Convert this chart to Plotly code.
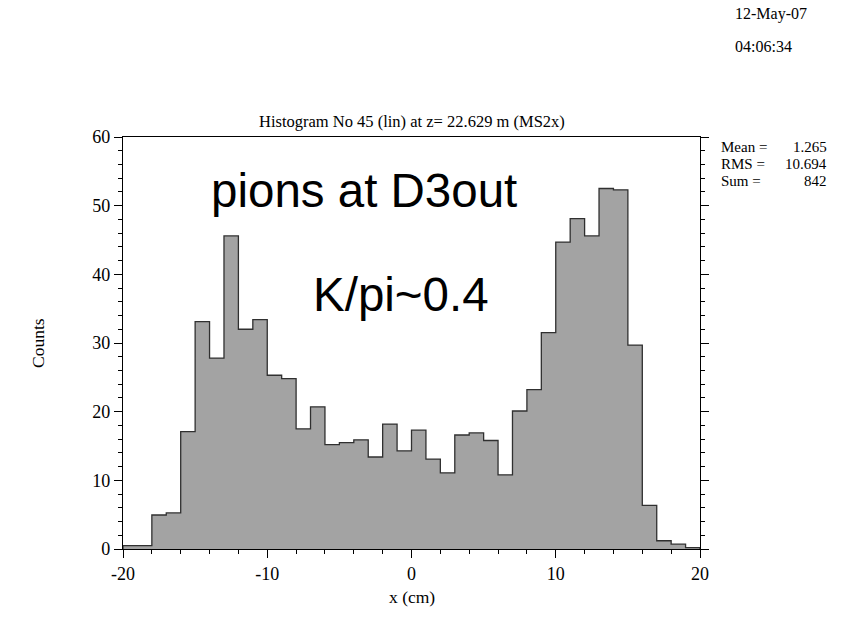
import plotly.graph_objects as go

# Histogram contents: 40 bins of 1 cm between -20 and 20 cm
bin_edges = list(range(-20, 21))
counts = [0.5, 0.5, 4.95, 5.25, 17.1, 33.1, 27.8, 45.6, 32.0, 33.4,
          25.3, 24.8, 17.5, 20.7, 15.2, 15.5, 15.9, 13.4, 18.2, 14.3,
          17.3, 13.1, 11.1, 16.6, 16.9, 15.8, 10.8, 20.1, 23.2, 31.5,
          44.7, 48.1, 45.6, 52.5, 52.3, 29.7, 6.35, 1.2, 0.7, 0.2]

x_tick_vals = [-20, -10, 0, 10, 20]
x_tick_text = ["-20", "-10", "0", "10", "20"]
y_tick_vals = [0, 10, 20, 30, 40, 50, 60]
y_tick_text = ["0", "10", "20", "30", "40", "50", "60"]

title_text = "Histogram No 45 (lin) at z= 22.629 m (MS2x)"
date_text = "12-May-07"
time_text = "04:06:34"
stat_names = ["Mean =", "RMS =", "Sum ="]
stat_values = ["1.265", "10.694", "842"]

SERIF = "Liberation Serif, Times New Roman, serif"
SANS = "Liberation Sans, Arial, sans-serif"

# Step outline: start on the baseline, walk along bin tops, close at the last edge
step_x = [bin_edges[0]] + bin_edges[:-1] + [bin_edges[-1], bin_edges[-1]]
step_y = [0] + counts + [counts[-1], 0]

fig = go.Figure()
fig.add_trace(go.Scatter(
    x=step_x, y=step_y, mode="lines", line_shape="hv",
    line=dict(color="#303030", width=1.3),
    fill="tozeroy", fillcolor="#a3a3a3",
    hoverinfo="skip", showlegend=False,
))

axis_common = dict(
    showline=True, linecolor="black", linewidth=1.2,
    ticks="outside", ticklen=8, tickwidth=1, tickcolor="black",
    showgrid=False, zeroline=False,
    tickfont=dict(family=SERIF, size=18, color="black"),
)

fig.update_xaxes(
    range=[-20, 20], tickmode="array", tickvals=x_tick_vals, ticktext=x_tick_text,
    mirror=True,
    minor=dict(ticks="outside", ticklen=4, tickmode="linear", dtick=2, tick0=-20,
               tickcolor="black", showgrid=False),
    **axis_common,
)
fig.update_yaxes(
    range=[0, 60], tickmode="array", tickvals=y_tick_vals, ticktext=y_tick_text,
    mirror="ticks",
    minor=dict(ticks="outside", ticklen=4, tickmode="linear", dtick=2, tick0=0,
               tickcolor="black", showgrid=False),
    **axis_common,
)

# Layout geometry in pixels
W, H = 845, 620
L, R, T, B = 123, 145, 137, 71
pw, ph = W - L - R, H - T - B

def px_to_paper(px, py):
    return (px - L) / pw, (H - B - py) / ph

annotations = [
    dict(text=title_text, x=0.5, y=1.0, xref="paper", yref="paper",
         xanchor="center", yanchor="middle", yshift=16, showarrow=False,
         font=dict(family=SERIF, size=16.5, color="black")),
    dict(text="x (cm)", x=0.5, y=0, xref="paper", yref="paper",
         xanchor="center", yanchor="middle", yshift=-48, showarrow=False,
         font=dict(family=SERIF, size=17.5, color="black")),
    dict(text="Counts", x=0, y=0.5, xref="paper", yref="paper",
         xanchor="center", yanchor="middle", xshift=-85, textangle=-90,
         showarrow=False, font=dict(family=SERIF, size=17.5, color="black")),
    dict(text="pions at D3out", x=-3.3, y=52.2, xref="x", yref="y",
         xanchor="center", yanchor="middle", showarrow=False,
         font=dict(family=SANS, size=47.5, color="black")),
    dict(text="K/pi~0.4", x=-0.7, y=37.1, xref="x", yref="y",
         xanchor="center", yanchor="middle", showarrow=False,
         font=dict(family=SANS, size=47.5, color="black")),
]

# Date/time stamp in the top right corner
for text, py in [(date_text, 14), (time_text, 46)]:
    xp, yp = px_to_paper(733, py)
    annotations.append(dict(text=text, x=xp, y=yp, xref="paper", yref="paper",
                            xanchor="left", yanchor="middle", showarrow=False,
                            font=dict(family=SERIF, size=16, color="black")))

# Statistics box to the right of the frame
for i, (name, val) in enumerate(zip(stat_names, stat_values)):
    py = 147 + i * 17
    xp, yp = px_to_paper(720, py)
    annotations.append(dict(text=name, x=xp, y=yp, xref="paper", yref="paper",
                            xanchor="left", yanchor="middle", showarrow=False,
                            borderpad=0,
                            font=dict(family=SERIF, size=15, color="black")))
    xp2, _ = px_to_paper(828, py)
    annotations.append(dict(text=val, x=xp2, y=yp, xref="paper", yref="paper",
                            xanchor="right", yanchor="middle", showarrow=False,
                            borderpad=0,
                            font=dict(family=SERIF, size=15, color="black")))

fig.update_layout(
    width=W, height=H,
    margin=dict(l=L, r=R, t=T, b=B),
    paper_bgcolor="white", plot_bgcolor="white",
    annotations=annotations,
    showlegend=False,
)

fig.write_html("out.html")
